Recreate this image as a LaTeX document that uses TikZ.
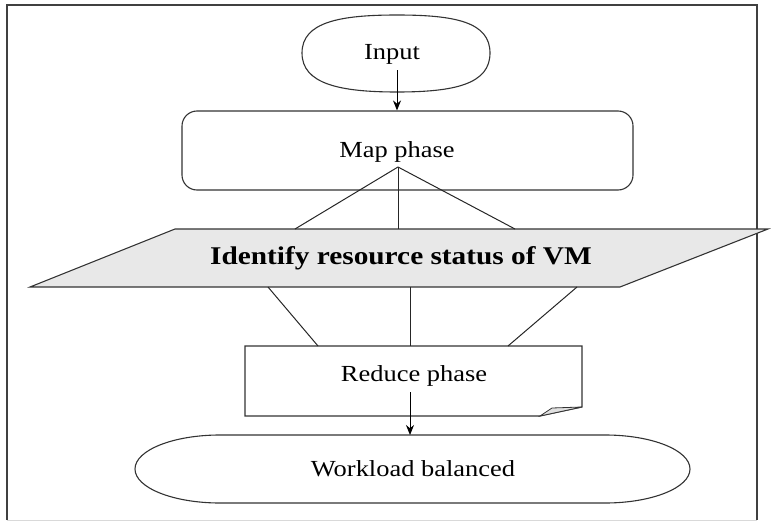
\documentclass[tikz,border=0pt]{standalone}
\usepackage{fontspec}
\setmainfont{Liberation Serif}[FakeStretch=1.15]
\usetikzlibrary{arrows.meta}
\begin{document}
\begin{tikzpicture}[x=1pt,y=-1pt,
  outline/.style={draw=black!80,line width=1.1pt},
  link/.style={draw=black!85,line width=1pt},
  arr/.style={draw=black,line width=1pt,-{Stealth[length=10pt,width=8pt]}},
  label/.style={font=\fontsize{23}{26}\selectfont,inner sep=0pt},
  boldlabel/.style={font=\fontsize{25.5}{28}\selectfont\bfseries,inner sep=0pt}]
\useasboundingbox (0,0) rectangle (779,522);
% frame
\draw[black!75,line width=1.3pt] (7,520) -- (7,5) -- (757,5) -- (757,520);
\draw[black!15,line width=1pt] (7,520) -- (757,520);

% input terminal
\draw[outline] (302,53) .. controls (302,22) and (340,15) .. (397,15)
  .. controls (455,15) and (490,22) .. (490,53)
  .. controls (490,84) and (455,92) .. (397,92)
  .. controls (340,92) and (302,84) .. (302,53);
\node[label] (input) at (392,54) {Input};
\coordinate (inarr) at (397,70);

% map phase box
\node[outline,rounded corners=15pt,minimum width=451pt,minimum height=79pt,inner sep=0pt] (map) at (407.5,150.5) {};
\node[label] (maptxt) at (397,152) {Map phase};
\coordinate (mfan) at (398,167);

% parallelogram
\filldraw[outline,fill=black!9] (175,229) -- (768,229) -- (620,287) -- (30,287) -- cycle;
\node[boldlabel] (ident) at (401,258) {Identify resource status of VM};
\coordinate (pt1) at (295,229);
\coordinate (pt2) at (398,229);
\coordinate (pt3) at (515,229);
\coordinate (pb1) at (268,287);
\coordinate (pb2) at (410,287);
\coordinate (pb3) at (577,287);

% reduce phase box with folded corner
\draw[outline] (245,346) -- (582,346) -- (582,407) -- (540,416) -- (245,416) -- cycle;
\filldraw[outline,fill=black!12,line width=0.8pt] (540,416) -- (552,408) -- (582,407) -- cycle;
\node[label] (reduce) at (414,376) {Reduce phase};
\coordinate (rt1) at (318,346);
\coordinate (rt2) at (410,346);
\coordinate (rt3) at (508,346);
\coordinate (rarr) at (410,392);

% workload balanced
\draw[outline] (220,435) -- (605,435) arc[start angle=90,end angle=-90,x radius=85,y radius=-34]
  -- (220,503) arc[start angle=270,end angle=90,x radius=85,y radius=-34] -- cycle;
\node[label] (work) at (413,469) {Workload balanced};
\coordinate (wtop) at (410,435);

% connectors
\draw[arr] (inarr) -- (inarr |- map.north);
\draw[link] (mfan) -- (pt1);
\draw[link] (mfan) -- (pt2);
\draw[link] (mfan) -- (pt3);
\draw[link] (pb1) -- (rt1);
\draw[link] (pb2) -- (rt2);
\draw[link] (pb3) -- (rt3);
\draw[arr] (rarr) -- (wtop);
\end{tikzpicture}
\end{document}
